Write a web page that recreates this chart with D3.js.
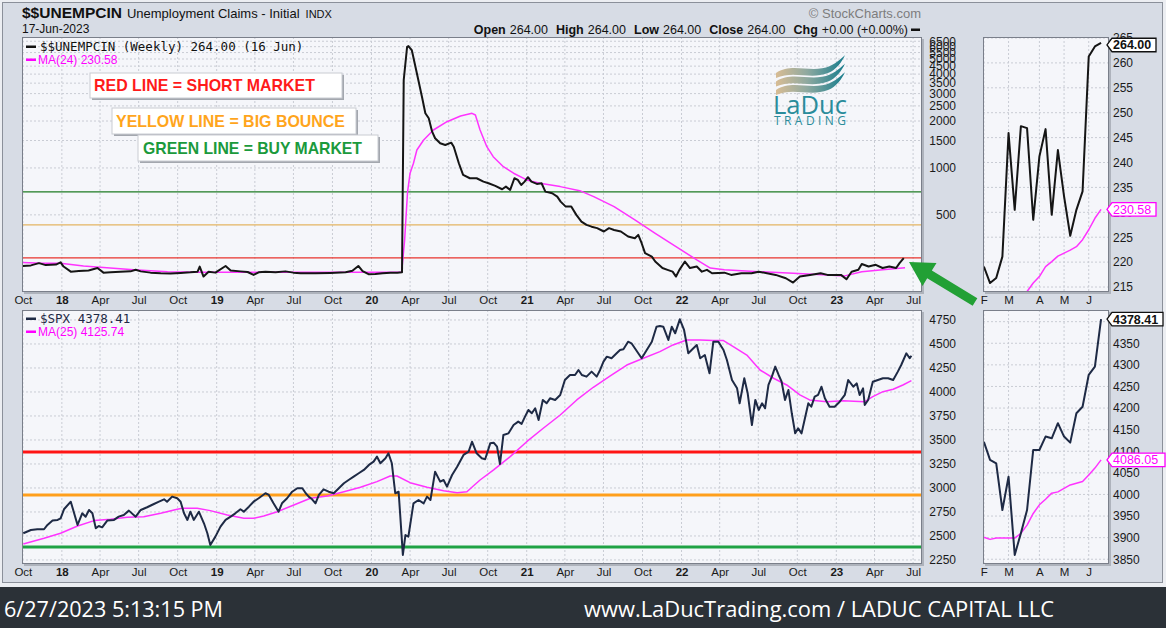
<!DOCTYPE html>
<html>
<head>
<meta charset="utf-8">
<script src="https://cdn.jsdelivr.net/npm/d3@7"></script>
<style>
  html, body { margin: 0; padding: 0; background: #fff; }
  svg { display: block; }
</style>
</head>
<body>
<svg id="chart" width="1166" height="628"></svg>
<script>
// ---- data ----
// weekly initial claims (thousands), [date, value]
const claims = [
  ["2017-10-01",235],["2017-10-20",237],["2017-11-08",245],["2017-11-24",238],["2017-12-18",240],["2017-12-29",248],
  ["2018-01-05",233],["2018-01-22",216],["2018-02-10",218],["2018-03-05",220],["2018-03-26",228],["2018-04-09",213],
  ["2018-04-26",214],["2018-05-19",216],["2018-06-12",217],["2018-06-24",222],["2018-07-06",217],["2018-07-29",213],
  ["2018-08-22",211],["2018-09-14",210],["2018-10-08",212],["2018-10-31",214],["2018-11-17",216],["2018-11-22",233],
  ["2018-12-01",201],["2018-12-13",216],["2018-12-29",213],["2019-01-22",235],["2019-02-03",220],["2019-02-26",217],
  ["2019-03-15",215],["2019-03-29",206],["2019-04-10",214],["2019-04-26",216],["2019-05-20",214],["2019-06-12",217],
  ["2019-07-01",213],["2019-07-18",211],["2019-08-22",211],["2019-09-26",212],["2019-11-01",214],["2019-11-17",219],
  ["2019-12-01",235],["2019-12-11",218],["2019-12-25",208],["2020-01-10",209],["2020-01-27",211],["2020-02-15",213],
  ["2020-03-02",213],["2020-03-13",214],["2020-03-17",3665],["2020-03-25",5990],["2020-03-28",6050],["2020-04-05",5707],
  ["2020-04-17",4046],["2020-04-29",2864],["2020-05-07",2242],["2020-05-15",2083],["2020-05-23",1709],["2020-05-30",1550],
  ["2020-06-11",1439],["2020-06-23",1404],["2020-07-07",1453],["2020-07-13",1369],["2020-07-25",1072],["2020-08-04",902],
  ["2020-08-20",859],["2020-09-05",859],["2020-09-21",817],["2020-10-03",798],["2020-10-19",767],["2020-11-04",730],
  ["2020-11-13",759],["2020-11-23",723],["2020-12-03",859],["2020-12-11",838],["2020-12-19",778],["2020-12-27",817],
  ["2021-01-04",872],["2021-01-12",817],["2021-01-25",790],["2021-02-05",798],["2021-02-14",705],["2021-03-02",688],
  ["2021-03-14",655],["2021-03-22",608],["2021-04-03",565],["2021-04-16",565],["2021-04-28",500],["2021-05-10",453],
  ["2021-05-22",431],["2021-06-03",420],["2021-06-16",411],["2021-07-02",391],["2021-07-14",411],["2021-07-26",400],
  ["2021-08-11",391],["2021-08-28",363],["2021-09-13",354],["2021-09-21",372],["2021-09-29",329],["2021-10-07",284],
  ["2021-10-23",270],["2021-10-31",251],["2021-11-17",228],["2021-11-29",222],["2021-12-11",216],["2021-12-19",201],
  ["2021-12-27",222],["2022-01-09",251],["2022-01-21",228],["2022-02-06",233],["2022-02-18",216],["2022-03-02",222],
  ["2022-03-14",211],["2022-04-12",213],["2022-04-28",206],["2022-05-22",211],["2022-06-15",211],["2022-07-02",216],
  ["2022-08-11",206],["2022-09-04",196],["2022-09-21",184],["2022-10-07",201],["2022-10-31",206],["2022-11-25",211],
  ["2022-12-11",206],["2023-01-12",206],["2023-01-25",193],["2023-02-06",216],["2023-02-22",222],["2023-03-02",242],
  ["2023-03-18",233],["2023-04-04",239],["2023-04-20",228],["2023-05-06",233],["2023-05-22",228],["2023-05-30",245],
  ["2023-06-09",264]
];
const claimsMa = [
  ["2017-10-01",247],["2017-11-13",245],["2017-12-29",245],["2018-02-21",235],["2018-06-19",222],["2018-09-07",216],
  ["2018-11-24",214],["2019-04-14",214],["2019-09-26",214],["2020-03-12",214],["2020-03-19",340],["2020-03-26",700],
  ["2020-04-01",925],["2020-04-09",1072],["2020-04-17",1304],["2020-05-03",1512],["2020-05-26",1752],["2020-06-27",1980],
  ["2020-07-29",2154],["2020-08-25",2242],["2020-09-02",2185],["2020-09-13",1752],["2020-09-29",1369],["2020-10-14",1181],
  ["2020-11-07",1019],["2020-12-01",925],["2021-01-01",838],["2021-02-01",798],["2021-03-21",759],["2021-05-06",715],
  ["2021-06-08",655],["2021-07-26",565],["2021-09-13",464],["2021-10-31",381],["2021-12-19",313],["2022-02-06",257],
  ["2022-03-10",228],["2022-04-12",222],["2022-07-02",216],["2022-09-21",211],["2022-12-11",206],["2023-01-21",203],
  ["2023-03-02",216],["2023-04-20",222],["2023-06-12",229]
];
// S&P 500
const spx = [
  ["2017-10-02",2528],["2017-10-20",2562],["2017-11-04",2570],["2017-11-20",2570],["2017-11-28",2615],["2017-12-10",2660],
  ["2017-12-22",2667],["2017-12-29",2684],["2018-01-06",2778],["2018-01-22",2857],["2018-02-07",2615],["2018-02-18",2736],
  ["2018-02-26",2701],["2018-03-06",2771],["2018-03-14",2736],["2018-03-22",2580],["2018-03-29",2604],["2018-04-06",2590],
  ["2018-04-18",2660],["2018-05-04",2667],["2018-05-15",2701],["2018-05-27",2719],["2018-06-08",2764],["2018-06-24",2701],
  ["2018-07-06",2771],["2018-07-21",2799],["2018-08-06",2833],["2018-08-18",2857],["2018-08-30",2882],["2018-09-06",2857],
  ["2018-09-18",2910],["2018-09-30",2893],["2018-10-08",2857],["2018-10-16",2736],["2018-10-24",2667],["2018-10-31",2753],
  ["2018-11-08",2667],["2018-11-20",2753],["2018-12-02",2632],["2018-12-10",2528],["2018-12-17",2406],["2018-12-29",2493],
  ["2019-01-10",2597],["2019-01-22",2667],["2019-02-03",2701],["2019-02-14",2736],["2019-02-26",2778],["2019-03-06",2753],
  ["2019-03-18",2805],["2019-03-29",2857],["2019-04-10",2893],["2019-04-26",2945],["2019-05-04",2927],["2019-05-15",2840],
  ["2019-05-27",2753],["2019-06-04",2840],["2019-06-16",2893],["2019-06-28",2961],["2019-07-10",2997],["2019-07-22",2997],
  ["2019-07-30",2945],["2019-08-06",2910],["2019-08-14",2882],["2019-08-22",2840],["2019-08-30",2927],["2019-09-10",2986],
  ["2019-09-22",2961],["2019-10-04",2945],["2019-10-16",2997],["2019-10-28",3049],["2019-11-08",3083],["2019-11-20",3118],
  ["2019-12-02",3153],["2019-12-14",3188],["2019-12-26",3240],["2020-01-06",3274],["2020-01-14",3326],["2020-01-22",3257],
  ["2020-02-03",3309],["2020-02-10",3361],["2020-02-18",3257],["2020-02-26",2945],["2020-03-05",2961],["2020-03-09",2701],
  ["2020-03-15",2302],["2020-03-21",2510],["2020-03-28",2493],["2020-04-09",2840],["2020-04-21",2875],["2020-05-03",2840],
  ["2020-05-11",2910],["2020-05-19",2875],["2020-05-30",3170],["2020-06-11",3066],["2020-06-19",3083],["2020-06-27",3014],
  ["2020-07-09",3135],["2020-07-21",3222],["2020-08-05",3344],["2020-08-17",3378],["2020-08-25",3482],["2020-09-05",3361],
  ["2020-09-17",3309],["2020-09-25",3299],["2020-10-07",3465],["2020-10-15",3472],["2020-10-23",3430],["2020-10-30",3250],
  ["2020-11-07",3552],["2020-11-19",3569],["2020-12-01",3656],["2020-12-12",3691],["2020-12-20",3667],["2020-12-28",3743],
  ["2021-01-05",3813],["2021-01-13",3778],["2021-01-21",3830],["2021-01-29",3708],["2021-02-08",3917],["2021-02-17",3882],
  ["2021-02-25",3934],["2021-03-09",3917],["2021-03-21",3969],["2021-04-01",4125],["2021-04-13",4177],["2021-04-25",4177],
  ["2021-05-03",4229],["2021-05-11",4177],["2021-05-22",4160],["2021-06-03",4212],["2021-06-15",4160],["2021-06-23",4229],
  ["2021-07-01",4316],["2021-07-09",4368],["2021-07-20",4351],["2021-08-01",4403],["2021-08-09",4437],["2021-08-17",4445],
  ["2021-08-28",4524],["2021-09-05",4507],["2021-09-13",4455],["2021-09-29",4351],["2021-10-11",4437],["2021-10-23",4524],
  ["2021-11-03",4680],["2021-11-11",4687],["2021-11-19",4680],["2021-12-01",4542],["2021-12-09",4680],["2021-12-17",4611],
  ["2021-12-28",4757],["2022-01-07",4646],["2022-01-17",4403],["2022-01-29",4455],["2022-02-06",4490],["2022-02-14",4351],
  ["2022-02-25",4385],["2022-03-08",4195],["2022-03-17",4524],["2022-03-29",4524],["2022-04-10",4437],["2022-04-18",4333],
  ["2022-04-30",4125],["2022-05-12",4038],["2022-05-18",3882],["2022-05-29",4143],["2022-06-06",3986],["2022-06-16",3656],
  ["2022-06-24",3917],["2022-07-02",3813],["2022-07-10",3882],["2022-07-17",3830],["2022-07-25",4073],["2022-08-02",4160],
  ["2022-08-10",4264],["2022-08-18",4177],["2022-08-25",4107],["2022-09-02",3917],["2022-09-10",4021],["2022-09-18",3778],
  ["2022-09-26",3569],["2022-10-03",3622],["2022-10-11",3569],["2022-10-19",3726],["2022-10-27",3882],["2022-11-03",3847],
  ["2022-11-11",3951],["2022-11-19",3969],["2022-11-27",4055],["2022-12-05",3934],["2022-12-16",3847],["2022-12-28",3847],
  ["2023-01-09",3899],["2023-01-21",3969],["2023-01-29",4125],["2023-02-10",4055],["2023-02-18",4090],["2023-02-25",3969],
  ["2023-03-05",4038],["2023-03-09",3865],["2023-03-17",3917],["2023-03-28",4107],["2023-04-09",4125],["2023-04-21",4143],
  ["2023-05-03",4143],["2023-05-15",4125],["2023-05-26",4212],["2023-06-03",4281],["2023-06-15",4403],["2023-06-23",4351],
  ["2023-06-27",4378]
];
const spxMa = [
  ["2017-10-02",2417],["2017-11-20",2476],["2017-12-29",2528],["2018-02-07",2604],["2018-03-18",2660],["2018-04-26",2674],
  ["2018-06-04",2695],["2018-07-13",2701],["2018-08-22",2736],["2018-09-30",2778],["2018-10-12",2788],["2018-11-16",2788],
  ["2018-12-17",2764],["2019-01-26",2719],["2019-03-06",2684],["2019-03-29",2684],["2019-04-22",2708],["2019-05-24",2753],
  ["2019-07-02",2823],["2019-08-10",2893],["2019-09-19",2917],["2019-10-28",2961],["2019-12-06",3007],["2020-01-14",3066],
  ["2020-02-14",3125],["2020-03-01",3125],["2020-04-01",3055],["2020-05-11",3007],["2020-06-19",2972],["2020-07-21",2951],
  ["2020-08-13",2961],["2020-08-28",3021],["2020-09-13",3083],["2020-10-15",3188],["2020-11-23",3326],["2021-01-01",3482],
  ["2021-02-09",3622],["2021-03-21",3760],["2021-04-29",3917],["2021-06-07",4049],["2021-07-17",4167],["2021-08-25",4281],
  ["2021-10-03",4351],["2021-11-11",4420],["2021-12-12",4490],["2022-01-13",4542],["2022-02-14",4542],["2022-03-17",4535],
  ["2022-04-10",4535],["2022-05-03",4472],["2022-06-04",4385],["2022-07-05",4229],["2022-08-06",4143],["2022-09-06",4073],
  ["2022-10-07",3969],["2022-10-30",3917],["2022-12-09",3899],["2023-01-17",3909],["2023-03-09",3899],["2023-03-28",3951],
  ["2023-04-21",4003],["2023-05-15",4028],["2023-06-07",4073],["2023-06-27",4118]
];
// zoomed panels on the right (weekly, Feb - Jun 2023)
const miniDates = ["2023-02-03","2023-02-10","2023-02-17","2023-02-24","2023-03-03","2023-03-10","2023-03-17",
  "2023-03-24","2023-03-31","2023-04-07","2023-04-14","2023-04-21","2023-04-28","2023-05-05","2023-05-12",
  "2023-05-19","2023-05-26","2023-06-02","2023-06-09","2023-06-16"];
const miniClaims = [219.1,215.8,216.8,221.1,245.9,230.5,247.3,246.9,228.5,241.2,246.7,229.5,242.5,233.2,225.3,230.5,234.2,261.3,263.3,264];
const miniClaimsMaDates = miniDates.slice(6);
const miniClaimsMa = [212.5,214.1,215.8,217.1,219.1,220.1,221.2,221.8,222.4,223.1,224.5,226.5,228.8,230.58];
const miniSpx = [4122,4080,4072,3964,4041,3860,3910,3964,4103,4103,4134,4130,4165,4134,4120,4188,4203,4277,4296,4406];
const miniSpxMa = [3901,3896,3899,3899,3899,3899,3910,3929,3956,3976,3989,4003,4006,4014,4022,4026,4030,4045,4061,4080];
const miniMonths = [["2023-02-03","F"],["2023-03-03","M"],["2023-04-07","A"],["2023-05-05","M"],["2023-06-02","J"]];

// tick labels
const claimTicks = [500,1000,1500,2000,2500,3000,3500,4000,4500,5000,5500,6000,6500];
const spxTicks = [2250,2500,2750,3000,3250,3500,3750,4000,4250,4500,4750];
const miniClaimTicks = [215,220,225,230,235,240,245,250,255,260,265];
const miniSpxTicks = [3850,3900,3950,4000,4050,4100,4150,4200,4250,4300,4350,4400];

// signal levels
const claimLevels = [702, 431, 265];
const spxLevels = [3375, 2927, 2385];
const levelColorsTop = ["#1d7a22", "#e3b462", "#e8332c"];
const levelColorsBottom = ["#ff1414", "#ff9f1c", "#1fa244"];

const notes = ["RED LINE = SHORT MARKET", "YELLOW LINE = BIG BOUNCE", "GREEN LINE = BUY MARKET"];
const lastValues = { claims: "264.00", claimsMa: "230.58", spx: "4378.41", spxMa: "4086.05" };

// ---- drawing ----
const parse = d3.timeParse("%Y-%m-%d");
const svg = d3.select("#chart");
const W = 1166, H = 628;
const axisFont = "'Liberation Sans', Arial, sans-serif";

svg.append("rect").attr("width", W).attr("height", H).attr("fill", "#eceef2");
svg.append("rect").attr("x", 2.5).attr("y", 2.5).attr("width", 1160).attr("height", 580)
  .attr("fill", "#d7dce5").attr("stroke", "#8b909a");

const P = { x0: 22, x1: 922, mx0: 983, mx1: 1109, uy0: 37, uy1: 292, ly0: 310, ly1: 564 };

const x = d3.scaleTime().domain([parse("2017-09-29"), parse("2023-07-22")]).range([P.x0, P.x1]);
const xm = d3.scaleTime().domain([parse("2023-02-02"), parse("2023-06-25")]).range([P.mx0, P.mx1]);
const yClaims = d3.scaleLog().domain([160, 6920]).range([P.uy1, P.uy0]);
const ySpx = d3.scaleLinear().domain([2208, 4854]).range([P.ly1, P.ly0]);
const ymClaims = d3.scaleLinear().domain([214, 265.2]).range([P.uy1, P.uy0]);
const ymSpx = d3.scaleLinear().domain([3839, 4427]).range([P.ly1, P.ly0]);

const defs = svg.append("defs");
let clipId = 0;
function panel(x0, y0, x1, y1) {
  const id = "clip" + (clipId++);
  defs.append("clipPath").attr("id", id).append("rect")
    .attr("x", x0).attr("y", y0).attr("width", x1 - x0).attr("height", y1 - y0);
  svg.append("rect").attr("x", x0 + 2).attr("y", y0 + 2).attr("width", x1 - x0).attr("height", y1 - y0)
    .attr("fill", "#aeb3bc");
  svg.append("rect").attr("x", x0).attr("y", y0).attr("width", x1 - x0).attr("height", y1 - y0)
    .attr("fill", "#f5f6fa");
  return svg.append("g").attr("clip-path", `url(#${id})`);
}
function frame(x0, y0, x1, y1) {
  svg.append("rect").attr("x", x0 + 0.5).attr("y", y0 + 0.5).attr("width", x1 - x0 - 1).attr("height", y1 - y0 - 1)
    .attr("fill", "none").attr("stroke", "#7a7f8a");
}
function grid(g, xs, ys, x0, y0, x1, y1) {
  g.selectAll(null).data(xs).join("line")
    .attr("x1", d => d).attr("x2", d => d).attr("y1", y0).attr("y2", y1)
    .attr("stroke", "#c9ccd4").attr("stroke-dasharray", "2,2");
  g.selectAll(null).data(ys).join("line")
    .attr("x1", x0).attr("x2", x1).attr("y1", d => d).attr("y2", d => d)
    .attr("stroke", "#c9ccd4").attr("stroke-dasharray", "2,2");
}
function series(g, data, xs, ys, color, width) {
  g.append("path").datum(data)
    .attr("d", d3.line().x(d => xs(parse(d[0]))).y(d => ys(d[1])))
    .attr("fill", "none").attr("stroke", color).attr("stroke-width", width)
    .attr("stroke-linejoin", "round");
}

const quarterTicks = x.ticks(d3.timeMonth.every(3));
const miniTickDates = miniMonths.map(d => parse(d[0]));

// upper main panel
const gU = panel(P.x0, P.uy0, P.x1, P.uy1);
grid(gU, quarterTicks.map(x), claimTicks.map(yClaims), P.x0, P.uy0, P.x1, P.uy1);
claimLevels.forEach((v, i) => gU.append("line").attr("x1", P.x0).attr("x2", P.x1)
  .attr("y1", yClaims(v)).attr("y2", yClaims(v)).attr("stroke", levelColorsTop[i]).attr("stroke-width", 1.4));
series(gU, claimsMa, x, yClaims, "#ff33ff", 1.5);
series(gU, claims, x, yClaims, "#151515", 2);
frame(P.x0, P.uy0, P.x1, P.uy1);

// lower main panel
const gL = panel(P.x0, P.ly0, P.x1, P.ly1);
grid(gL, quarterTicks.map(x), spxTicks.map(ySpx), P.x0, P.ly0, P.x1, P.ly1);
spxLevels.forEach((v, i) => gL.append("line").attr("x1", P.x0).attr("x2", P.x1)
  .attr("y1", ySpx(v)).attr("y2", ySpx(v)).attr("stroke", levelColorsBottom[i]).attr("stroke-width", 3));
series(gL, spxMa, x, ySpx, "#ff33ff", 1.5);
series(gL, spx, x, ySpx, "#1e2a45", 2);
frame(P.x0, P.ly0, P.x1, P.ly1);

// mini panels
const zip = (dates, vals) => dates.map((d, i) => [d, vals[i]]);
const gMU = panel(P.mx0, P.uy0, P.mx1, P.uy1);
grid(gMU, miniTickDates.map(xm), miniClaimTicks.map(ymClaims), P.mx0, P.uy0, P.mx1, P.uy1);
series(gMU, zip(miniClaimsMaDates, miniClaimsMa), xm, ymClaims, "#ff33ff", 1.5);
series(gMU, zip(miniDates, miniClaims), xm, ymClaims, "#151515", 2);
frame(P.mx0, P.uy0, P.mx1, P.uy1);

const gML = panel(P.mx0, P.ly0, P.mx1, P.ly1);
grid(gML, miniTickDates.map(xm), miniSpxTicks.map(ymSpx), P.mx0, P.ly0, P.mx1, P.ly1);
series(gML, zip(miniDates, miniSpxMa), xm, ymSpx, "#ff33ff", 1.5);
series(gML, zip(miniDates, miniSpx), xm, ymSpx, "#1e2a45", 2);
frame(P.mx0, P.ly0, P.mx1, P.ly1);

// axes
function styleAxis(g, size) {
  g.select(".domain").remove();
  g.selectAll("line").remove();
  g.selectAll("text").attr("font-family", axisFont).attr("font-size", size).attr("fill", "#1a1a1a");
}
const monthFmt = d => d.getMonth() === 0 ? d3.timeFormat("%y")(d) : d3.timeFormat("%b")(d);
[P.uy1, P.ly1].forEach(y0 => {
  const ax = svg.append("g").attr("transform", `translate(0,${y0 + 2})`)
    .call(d3.axisBottom(x).tickValues(quarterTicks).tickFormat(monthFmt).tickSize(0).tickPadding(2));
  styleAxis(ax, 11.5);
  ax.selectAll("text").attr("font-weight", d => d.getMonth() === 0 ? "bold" : "normal");
  const am = svg.append("g").attr("transform", `translate(0,${y0 + 2})`)
    .call(d3.axisBottom(xm).tickValues(miniTickDates).tickFormat((d, i) => miniMonths[i][1]).tickSize(0).tickPadding(2));
  styleAxis(am, 11.5);
});
const ayU = svg.append("g").attr("transform", `translate(${P.x1},0)`)
  .call(d3.axisRight(yClaims).tickValues(claimTicks).tickFormat(d3.format("d")).tickSize(0));
styleAxis(ayU, 12);
ayU.selectAll("text").attr("text-anchor", "end").attr("x", 34);
const ayL = svg.append("g").attr("transform", `translate(${P.x1},0)`)
  .call(d3.axisRight(ySpx).tickValues(spxTicks).tickFormat(d3.format("d")).tickSize(0));
styleAxis(ayL, 12);
ayL.selectAll("text").attr("text-anchor", "end").attr("x", 34);
const aymU = svg.append("g").attr("transform", `translate(${P.mx1},0)`)
  .call(d3.axisRight(ymClaims).tickValues(miniClaimTicks).tickFormat(d3.format("d")).tickSize(0).tickPadding(4));
styleAxis(aymU, 12);
const aymL = svg.append("g").attr("transform", `translate(${P.mx1},0)`)
  .call(d3.axisRight(ymSpx).tickValues(miniSpxTicks).tickFormat(d3.format("d")).tickSize(0).tickPadding(4));
styleAxis(aymL, 12);

// header
const hdr = svg.append("text").attr("x", 22).attr("y", 18).attr("font-family", axisFont).attr("fill", "#111");
hdr.append("tspan").attr("font-weight", "bold").attr("font-size", 15.5).text("$$UNEMPCIN");
hdr.append("tspan").attr("font-size", 13).attr("dx", 5).text("Unemployment Claims - Initial");
hdr.append("tspan").attr("font-size", 11).attr("dx", 6).text("INDX");
svg.append("text").attr("x", 22).attr("y", 33).attr("font-family", axisFont).attr("font-size", 12)
  .attr("fill", "#111").text("17-Jun-2023");
svg.append("text").attr("x", 921).attr("y", 18).attr("text-anchor", "end").attr("font-family", axisFont)
  .attr("font-size", 13).attr("fill", "#7d7d7d").text("© StockCharts.com");
const ohlc = svg.append("text").attr("x", 908).attr("y", 34).attr("text-anchor", "end")
  .attr("font-family", axisFont).attr("font-size", 12.5).attr("fill", "#111");
[["Open", "264.00"], ["High", "264.00"], ["Low", "264.00"], ["Close", "264.00"], ["Chg", "+0.00 (+0.00%)"]]
  .forEach((p, i) => {
    ohlc.append("tspan").attr("font-weight", "bold").attr("dx", i ? 8 : 0).text(p[0]);
    ohlc.append("tspan").attr("dx", 4).text(p[1]);
  });
svg.append("rect").attr("x", 911).attr("y", 28.5).attr("width", 9).attr("height", 2.5).attr("fill", "#111");

// legends
function legend(y, color, text, mono) {
  svg.append("rect").attr("x", 26).attr("y", y - 5.5).attr("width", 10).attr("height", 2.5).attr("fill", color);
  svg.append("text").attr("x", mono ? 40 : 38).attr("y", y)
    .attr("font-family", mono ? "'DejaVu Sans Mono', monospace" : axisFont)
    .attr("font-size", mono ? 12.5 : 12).attr("fill", color).text(text);
}
legend(51, "#111", "$$UNEMPCIN (Weekly) 264.00 (16 Jun)", true);
legend(64, "#ff00ff", "MA(24) 230.58", false);
legend(323, "#1e2a45", "$SPX 4378.41", true);
legend(336, "#ff00ff", "MA(25) 4125.74", false);

// annotation boxes
const noteBoxes = [
  { x: 90, y: 73, w: 252, h: 25, tx: 94, ty: 91, tw: 221, color: "#ff1a1a" },
  { x: 112, y: 108, w: 244, h: 26, tx: 116, ty: 127, tw: 229, color: "#ffa51c" },
  { x: 138, y: 135, w: 240, h: 26, tx: 143, ty: 154, tw: 219, color: "#1b9a3c" }
];
noteBoxes.forEach((b, i) => {
  svg.append("rect").attr("x", b.x + 2).attr("y", b.y + 2).attr("width", b.w).attr("height", b.h).attr("fill", "#a3a7ae");
  svg.append("rect").attr("x", b.x).attr("y", b.y).attr("width", b.w).attr("height", b.h)
    .attr("fill", "#fff").attr("stroke", "#c9ccd2");
  svg.append("text").attr("x", b.tx).attr("y", b.ty).attr("font-family", "'Liberation Sans Narrow', 'Liberation Sans', Arial, sans-serif")
    .attr("font-weight", "bold").attr("font-size", 17).attr("fill", b.color)
    .attr("textLength", b.tw).attr("lengthAdjust", "spacingAndGlyphs").text(notes[i]);
});

// logo
const grad = defs.append("linearGradient").attr("id", "wave").attr("x1", "0").attr("x2", "1").attr("y1", "0").attr("y2", "0");
grad.append("stop").attr("offset", "0").attr("stop-color", "#d8bc94");
grad.append("stop").attr("offset", "0.45").attr("stop-color", "#8fa9a0");
grad.append("stop").attr("offset", "1").attr("stop-color", "#157c8c");
[0, 1, 2].forEach(i => {
  const o = i * 8.5;
  svg.append("path")
    .attr("d", `M776,${73 + o} C792,${62 + o} 812,${74 + o} 830,${66 + o} C838,${62 + o} 843,${57 + o} 845,${55 + o}
      C842,${62 + o} 836,${70 + o} 828,${73 + o} C810,${80 + o} 794,${70 + o} 776,${78 + o} Z`)
    .attr("fill", "url(#wave)");
});
svg.append("text").attr("x", 773).attr("y", 114).attr("font-family", "'Open Sans', 'DejaVu Sans', sans-serif")
  .attr("font-size", 25).attr("fill", "#2a8c9b").attr("textLength", 74).attr("lengthAdjust", "spacingAndGlyphs").text("LaDuc");
svg.append("text").attr("x", 774).attr("y", 124.5).attr("font-family", "'Open Sans', 'DejaVu Sans', sans-serif")
  .attr("font-size", 12).attr("fill", "#2a8c9b").attr("textLength", 72).attr("lengthAdjust", "spacing").text("TRADING");

// last-value tags
function tag(yc, text, color, bold, w) {
  const x0 = 1107, h = 13.5;
  svg.append("path")
    .attr("d", `M${x0},${yc} L${x0 + 5},${yc - h / 2} L${x0 + w},${yc - h / 2} L${x0 + w},${yc + h / 2} L${x0 + 5},${yc + h / 2} Z`)
    .attr("fill", "#fff").attr("stroke", color).attr("stroke-width", 1.3);
  svg.append("text").attr("x", x0 + 6).attr("y", yc + 4.5).attr("font-family", axisFont)
    .attr("font-size", 12.5).attr("font-weight", bold ? "bold" : "normal").attr("fill", color).text(text);
}
tag(ymClaims(miniClaims[miniClaims.length - 1]) + 2, lastValues.claims, "#111", true, 49);
tag(ymClaims(miniClaimsMa[miniClaimsMa.length - 1]), lastValues.claimsMa, "#ff00ff", false, 49);
tag(ymSpx(miniSpx[miniSpx.length - 1]), lastValues.spx, "#111", true, 56);
tag(ymSpx(miniSpxMa[miniSpxMa.length - 1]), lastValues.spxMa, "#ff00ff", false, 58);

// green arrow pointing at the latest claims reading
(function () {
  const tip = [909, 262], tail = [975, 302];
  const dx = tip[0] - tail[0], dy = tip[1] - tail[1], len = Math.hypot(dx, dy);
  const u = [dx / len, dy / len], n = [-u[1], u[0]];
  const hl = 24, hw = 13.5, sw = 4.5;
  const b = [tip[0] - u[0] * hl, tip[1] - u[1] * hl];
  const pts = [
    tip,
    [b[0] + n[0] * hw, b[1] + n[1] * hw],
    [b[0] + n[0] * sw, b[1] + n[1] * sw],
    [tail[0] + n[0] * sw, tail[1] + n[1] * sw],
    [tail[0] - n[0] * sw, tail[1] - n[1] * sw],
    [b[0] - n[0] * sw, b[1] - n[1] * sw],
    [b[0] - n[0] * hw, b[1] - n[1] * hw]
  ];
  svg.append("polygon").attr("points", pts.map(p => p.join(",")).join(" ")).attr("fill", "#22a035");
})();

// footer
svg.append("rect").attr("x", 0).attr("y", 587).attr("width", W).attr("height", H - 587).attr("fill", "#2b3137");
svg.append("text").attr("x", 4).attr("y", 617).attr("font-family", "'Open Sans', 'Noto Sans', sans-serif")
  .attr("font-size", 21).attr("fill", "#fff").attr("textLength", 219).attr("lengthAdjust", "spacingAndGlyphs")
  .text("6/27/2023 5:13:15 PM");
svg.append("text").attr("x", 584).attr("y", 617).attr("font-family", "'Open Sans', 'Noto Sans', sans-serif")
  .attr("font-size", 21).attr("fill", "#fff").attr("textLength", 470).attr("lengthAdjust", "spacingAndGlyphs")
  .text("www.LaDucTrading.com / LADUC CAPITAL LLC");
</script>
</body>
</html>
